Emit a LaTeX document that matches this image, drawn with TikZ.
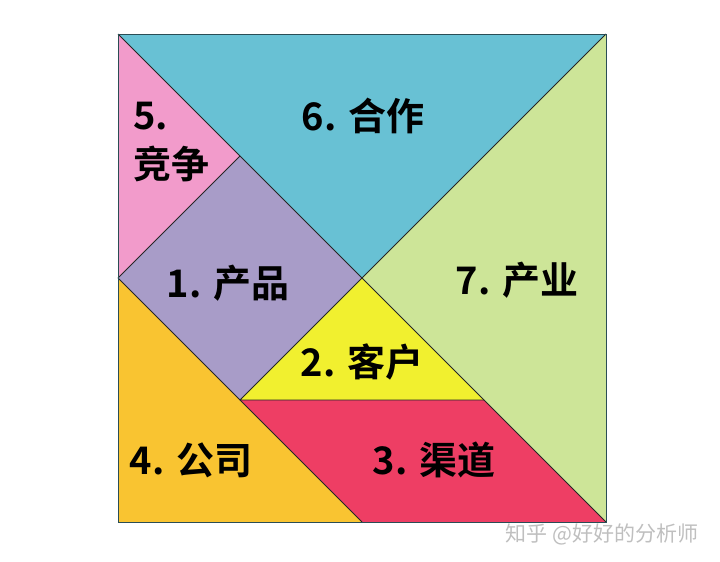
\documentclass[tikz,border=0pt]{standalone}
\usepackage{fontspec}
\newfontfamily\cjk{Noto Sans CJK SC}[BoldFont={* Bold}]
\definecolor{cblue}{HTML}{68C1D4}
\definecolor{cgreen}{HTML}{CDE598}
\definecolor{cpink}{HTML}{F29BCB}
\definecolor{cpurple}{HTML}{A89CC8}
\definecolor{cyellow}{HTML}{F1F02F}
\definecolor{cred}{HTML}{EE3E64}
\definecolor{corange}{HTML}{F9C431}
\begin{document}
\begin{tikzpicture}[x=1pt,y=-1pt,
  piece/.style={draw=black!85, line width=0.8pt, line join=round},
  lbl/.style={font=\cjk\bfseries\fontsize{38}{44}\selectfont, text=black, inner sep=0pt},
  wm/.style={font=\cjk\fontsize{21}{24}\selectfont, text=black!25, inner sep=0pt}]
\useasboundingbox (0,0) rectangle (720,562);
\coordinate (TL) at (118,34);
\coordinate (TR) at (606,34);
\coordinate (BR) at (606,522);
\coordinate (BL) at (118,522);
\coordinate (C) at (362,278);
\coordinate (L) at (118,278);
\coordinate (M) at (240,156);
\coordinate (P) at (240,400);
\coordinate (Q) at (484,400);
\coordinate (B) at (362,522);
% pieces
\fill[cblue] (TL) -- (TR) -- (C) -- cycle;
\fill[cgreen] (TR) -- (BR) -- (C) -- cycle;
\fill[cpink] (TL) -- (M) -- (L) -- cycle;
\fill[cpurple] (L) -- (M) -- (C) -- (P) -- cycle;
\fill[cyellow] (C) -- (P) -- (Q) -- cycle;
\fill[cred] (P) -- (Q) -- (BR) -- (B) -- cycle;
\fill[corange] (L) -- (BL) -- (B) -- cycle;
\draw[piece] (TL) -- (C) -- (TR);
\draw[piece] (C) -- (BR);
\draw[piece] (L) -- (M);
\draw[piece] (C) -- (P) -- (Q);
\draw[piece] (L) -- (B);
\draw[draw=black!60!cblue, line width=1pt] (TL) rectangle (BR);
% labels
\node[lbl, anchor=west] (n5a) at (133,116) {5.};
\node[lbl, anchor=west] (n5b) at (133,164) {竞争};
\node[lbl] (n6) at (363,116) {6. 合作};
\node[lbl] (n1) at (228,283) {1. 产品};
\node[lbl] (n7) at (517,280) {7. 产业};
\node[lbl] (n2) at (362,362) {2. 客户};
\node[lbl] (n4) at (191,460) {4. 公司};
\node[lbl] (n3) at (434,460) {3. 渠道};
\node[wm] (w) at (602,534) {知乎 @好好的分析师};
\end{tikzpicture}
\end{document}
